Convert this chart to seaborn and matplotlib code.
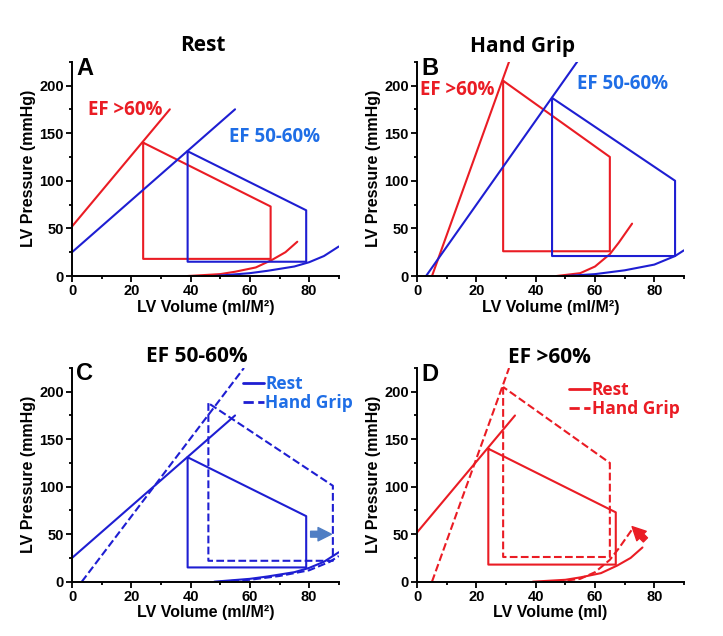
import numpy as np
import pandas as pd
import seaborn as sns
import matplotlib.pyplot as plt
from matplotlib.lines import Line2D

# colours
red = "#ea1c24"
blue = "#1e1ed2"
blue_txt = "#1f6ee6"
arrow_blue = "#4f7ec4"

# ---- data (volume ml/M2, pressure mmHg) ----
# EF >60%, rest
red_rest_loop_v = [24, 24, 67, 67, 24]
red_rest_loop_p = [140, 18, 18, 73, 140]
red_rest_espvr_v = [0, 33]
red_rest_espvr_p = [52, 175]
red_rest_edpvr_v = [39, 50, 55, 62, 67.5, 72, 76]
red_rest_edpvr_p = [0, 2, 4.5, 9, 17, 25, 36]

# EF >60%, hand grip
red_hg_loop_v = [29, 29, 65, 65, 29]
red_hg_loop_p = [205, 26, 26, 125, 205]
red_hg_espvr_v = [5, 31]
red_hg_espvr_p = [0, 225]
red_hg_edpvr_v = [47, 55, 60, 65, 68, 72.5]
red_hg_edpvr_p = [0, 3, 10, 23, 35, 55]

# EF 50-60%, rest
blue_rest_loop_v = [39, 39, 79, 79, 39]
blue_rest_loop_p = [131, 15, 15, 69, 131]
blue_rest_espvr_v = [0, 55]
blue_rest_espvr_p = [25, 175]
blue_rest_edpvr_v = [48, 60, 66, 75, 80, 85, 90]
blue_rest_edpvr_p = [0, 3, 5.5, 10, 14.5, 21, 31]

# EF 50-60%, hand grip
blue_hg_loop_v = [45.5, 45.5, 87, 87, 45.5]
blue_hg_loop_p = [187, 21, 21, 100, 187]
blue_hg_espvr_v = [3, 54]
blue_hg_espvr_p = [0, 225]
blue_hg_edpvr_v = [50, 60, 70, 80, 87, 90]
blue_hg_edpvr_p = [0, 2, 6, 12, 21, 27]

# panel C hand grip (drawn slightly differently there)
blue_hg_c_loop_v = [46, 46, 88, 88, 46]
blue_hg_c_loop_p = [188, 22, 22, 101, 188]
blue_hg_c_espvr_v = [3.3, 58]
blue_hg_c_espvr_p = [0, 225]

sns.set_style("ticks")
plt.rcParams["font.family"] = ["Liberation Sans", "DejaVu Sans"]
plt.rcParams["font.weight"] = "bold"
for k in ["text.color", "axes.labelcolor", "xtick.color", "ytick.color", "axes.edgecolor"]:
    plt.rcParams[k] = "black"

fig = plt.figure(figsize=(7.23, 6.36), dpi=100)
axA = fig.add_axes([0.0996, 0.566, 0.369, 0.337])
axB = fig.add_axes([0.577, 0.566, 0.369, 0.337])
axC = fig.add_axes([0.0996, 0.0854, 0.369, 0.336])
axD = fig.add_axes([0.577, 0.0854, 0.369, 0.336])


def draw(ax, v, p, color, ls="-"):
    sns.lineplot(x=v, y=p, sort=False, estimator=None, color=color,
                 lw=1.5, linestyle=ls, ax=ax)


def style(ax, xlabel, letter, ly=211):
    ax.set_xlim(0, 90)
    ax.set_ylim(0, 225)
    ax.set_xticks([0, 20, 40, 60, 80])
    ax.set_xticks(range(10, 91, 20), minor=True)
    ax.set_yticks([0, 50, 100, 150, 200])
    ax.set_yticks([25, 75, 125, 175, 225], minor=True)
    sns.despine(ax=ax)
    for s in ["left", "bottom"]:
        ax.spines[s].set_linewidth(1.4)
    ax.tick_params(which="major", direction="out", length=4, width=1.3,
                   labelsize=10.5, pad=2)
    ax.tick_params(which="minor", direction="out", length=2.5, width=1.3)
    for t in ax.get_xticklabels() + ax.get_yticklabels():
        t.set_fontweight("bold")
    ax.set_xlabel(xlabel, fontsize=11.5, fontweight="bold", labelpad=1)
    ax.set_ylabel("LV Pressure (mmHg)", fontsize=11.5, fontweight="bold", labelpad=2)
    ax.text(1.5, ly, letter, fontsize=17, fontweight="bold", color="black")


cal = ["Open Sans", "DejaVu Sans"]

# ---- A: rest ----
draw(axA, red_rest_espvr_v, red_rest_espvr_p, red)
draw(axA, red_rest_loop_v, red_rest_loop_p, red)
draw(axA, red_rest_edpvr_v, red_rest_edpvr_p, red)
draw(axA, blue_rest_espvr_v, blue_rest_espvr_p, blue)
draw(axA, blue_rest_loop_v, blue_rest_loop_p, blue)
draw(axA, blue_rest_edpvr_v, blue_rest_edpvr_p, blue)
axA.text(5.5, 169, "EF >60%", color=red, fontsize=13.5, fontweight="bold", family=cal)
axA.text(53, 141, "EF 50-60%", color=blue_txt, fontsize=13.5, fontweight="bold", family=cal)
style(axA, "LV Volume (ml/M²)", "A")

# ---- B: hand grip ----
draw(axB, red_hg_espvr_v, red_hg_espvr_p, red)
draw(axB, red_hg_loop_v, red_hg_loop_p, red)
draw(axB, red_hg_edpvr_v, red_hg_edpvr_p, red)
draw(axB, blue_hg_espvr_v, blue_hg_espvr_p, blue)
draw(axB, blue_hg_loop_v, blue_hg_loop_p, blue)
draw(axB, blue_hg_edpvr_v, blue_hg_edpvr_p, blue)
axB.text(1, 190, "EF >60%", color=red, fontsize=13.5, fontweight="bold", family=cal)
axB.text(54, 196, "EF 50-60%", color=blue_txt, fontsize=13.5, fontweight="bold", family=cal)
style(axB, "LV Volume (ml/M²)", "B")

# ---- C: EF 50-60% ----
draw(axC, blue_rest_espvr_v, blue_rest_espvr_p, blue)
draw(axC, blue_rest_loop_v, blue_rest_loop_p, blue)
draw(axC, blue_rest_edpvr_v, blue_rest_edpvr_p, blue)
draw(axC, blue_hg_c_espvr_v, blue_hg_c_espvr_p, blue, "--")
draw(axC, blue_hg_c_loop_v, blue_hg_c_loop_p, blue, "--")
draw(axC, blue_hg_edpvr_v, blue_hg_edpvr_p, blue, "--")
axC.annotate("", xy=(87.5, 50), xytext=(80.5, 50),
             arrowprops=dict(arrowstyle="simple,head_length=0.8,head_width=0.8,tail_width=0.35",
                             color=arrow_blue, mutation_scale=12, shrinkA=0, shrinkB=0))
style(axC, "LV Volume (ml/M²)", "C", ly=212)
hC = [Line2D([], [], color=blue, lw=2), Line2D([], [], color=blue, lw=2, ls="--")]
axC.legend(hC, ["Rest", "Hand Grip"], loc="upper left", bbox_to_anchor=(0.64, 0.965),
           frameon=False, handlelength=1.2, handletextpad=0.1, labelspacing=0.05,
           borderpad=0, borderaxespad=0, labelcolor=blue_txt,
           prop=dict(family=cal, weight="bold", size=12.5))

# ---- D: EF >60% ----
draw(axD, red_rest_espvr_v, red_rest_espvr_p, red)
draw(axD, red_rest_loop_v, red_rest_loop_p, red)
draw(axD, red_rest_edpvr_v, red_rest_edpvr_p, red)
draw(axD, red_hg_espvr_v, red_hg_espvr_p, red, "--")
draw(axD, red_hg_loop_v, red_hg_loop_p, red, "--")
draw(axD, red_hg_edpvr_v, red_hg_edpvr_p, red, "--")
axD.annotate("", xy=(72.5, 58), xytext=(77, 44),
             arrowprops=dict(arrowstyle="simple,head_length=0.8,head_width=0.8,tail_width=0.35",
                             color=red, mutation_scale=12, shrinkA=0, shrinkB=0))
style(axD, "LV Volume (ml)", "D")
hD = [Line2D([], [], color=red, lw=2), Line2D([], [], color=red, lw=2, ls="--")]
axD.legend(hD, ["Rest", "Hand Grip"], loc="upper left", bbox_to_anchor=(0.57, 0.937),
           frameon=False, handlelength=1.2, handletextpad=0.1, labelspacing=0.05,
           borderpad=0, borderaxespad=0, labelcolor=red,
           prop=dict(family=cal, weight="bold", size=12.5))

# panel titles
fig.text(0.281, 0.920, "Rest", ha="center", fontsize=15, fontweight="bold", family=cal)
fig.text(0.723, 0.918, "Hand Grip", ha="center", fontsize=15, fontweight="bold", family=cal)
fig.text(0.272, 0.431, "EF 50-60%", ha="center", fontsize=15, fontweight="bold", family=cal)
fig.text(0.760, 0.430, "EF >60%", ha="center", fontsize=15, fontweight="bold", family=cal)

fig.savefig("out.png", dpi=100)
